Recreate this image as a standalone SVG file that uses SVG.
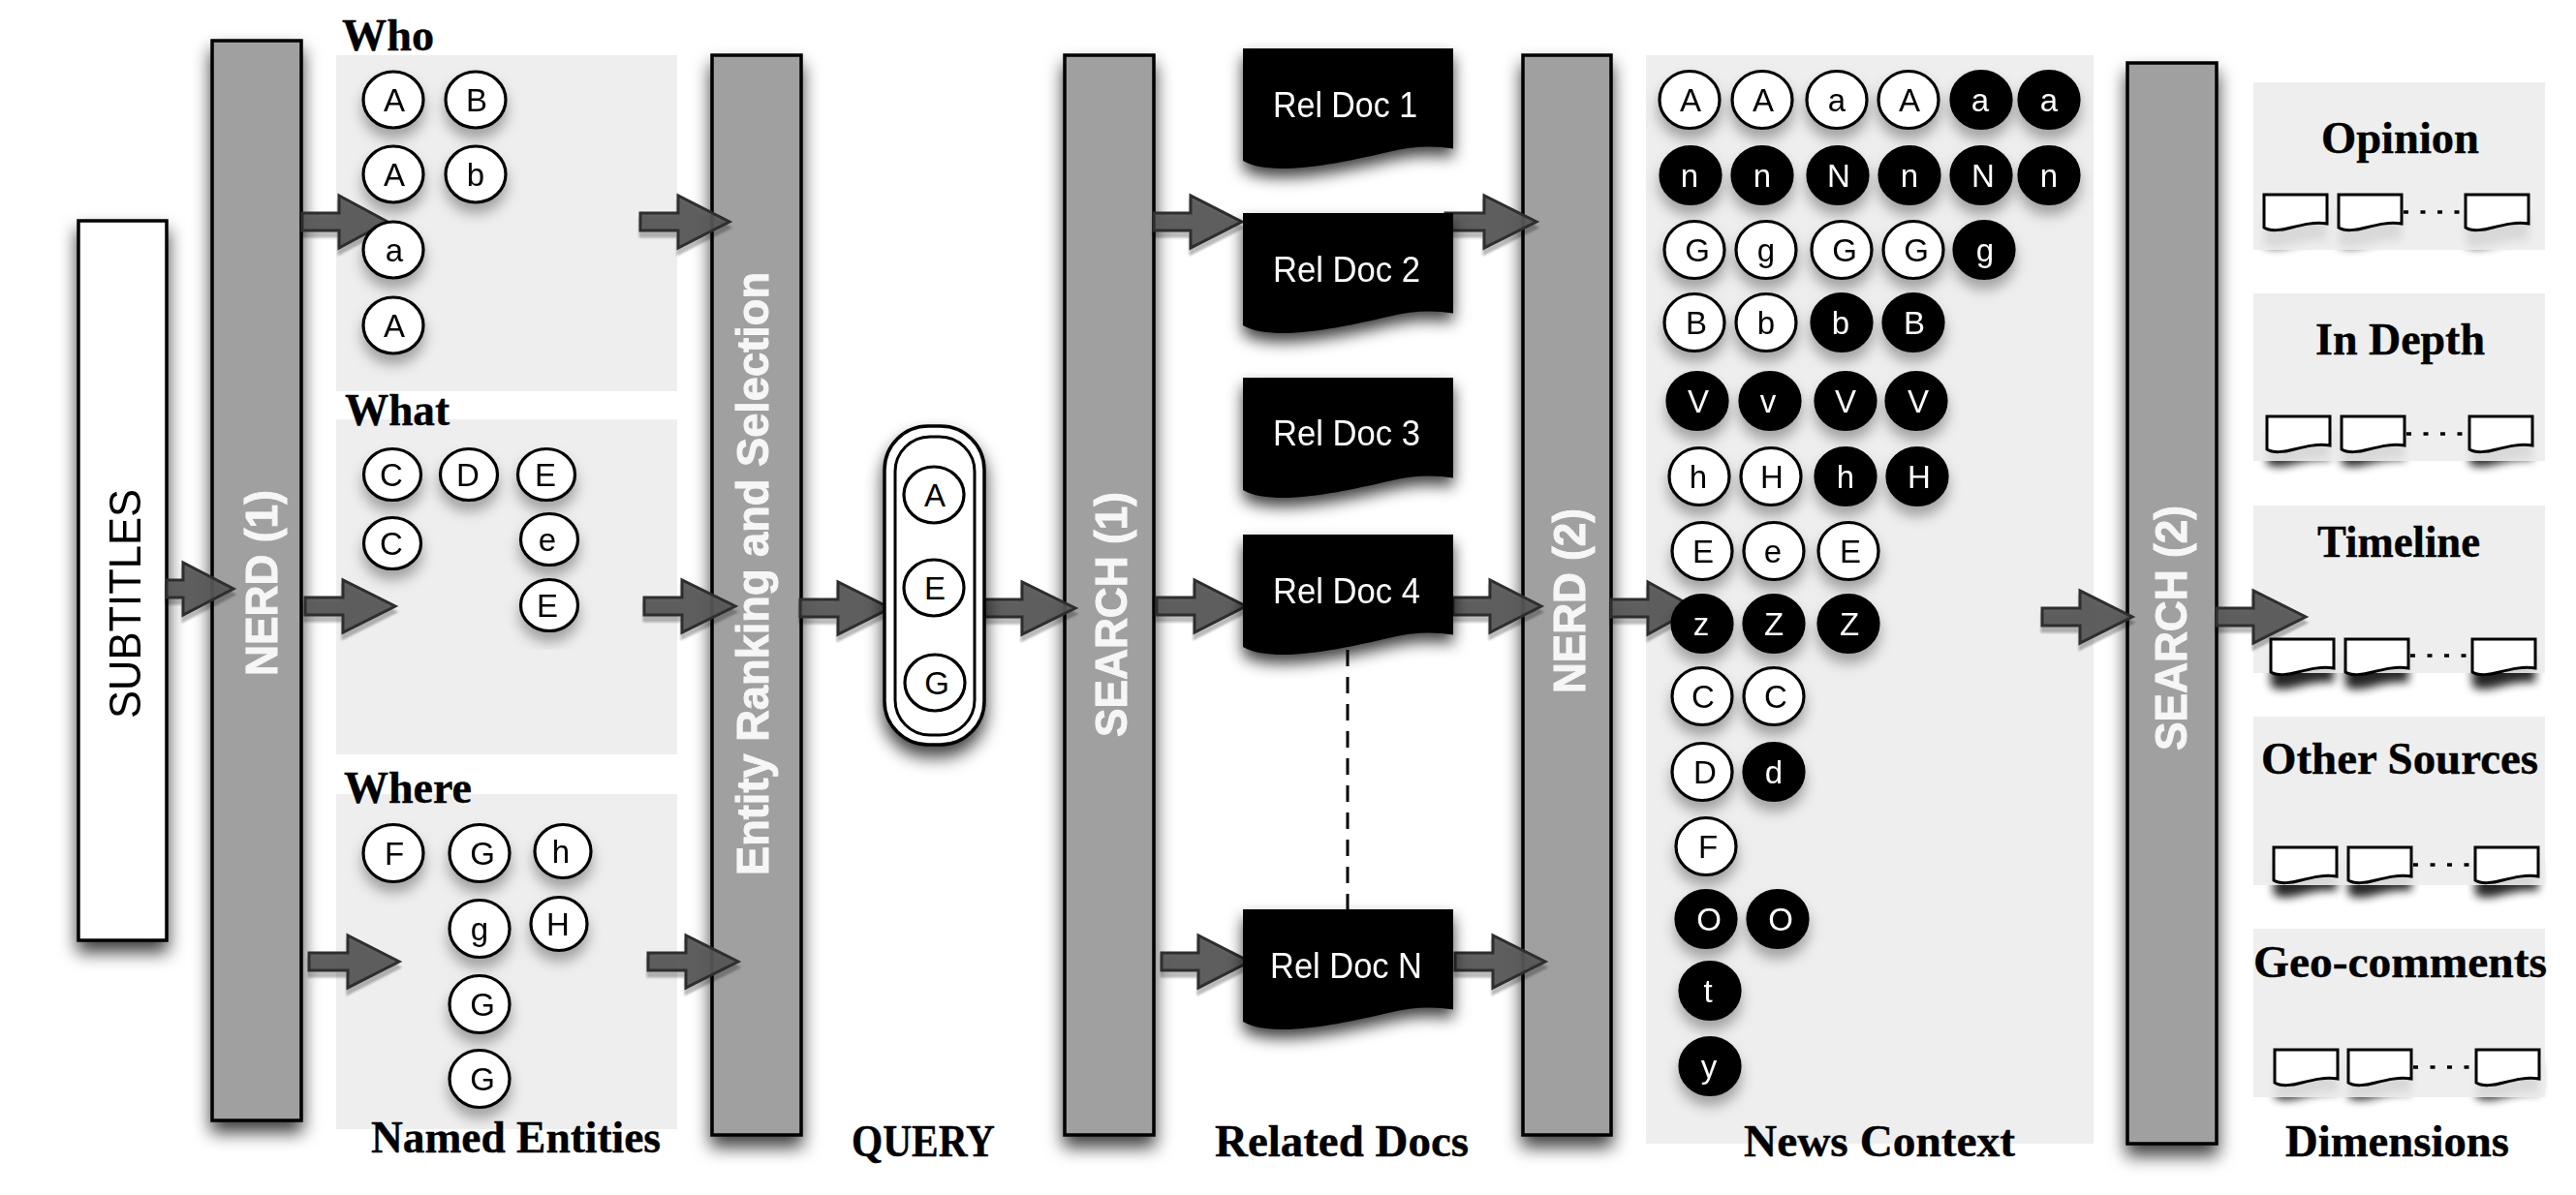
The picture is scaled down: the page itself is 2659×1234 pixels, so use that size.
<svg xmlns="http://www.w3.org/2000/svg" width="2659" height="1234" viewBox="0 0 2659 1234">
<style>
text{font-family:"Liberation Sans",Arial,sans-serif}
.panel{fill:#ececec;opacity:.9}
.bar{fill:#a0a0a0;stroke:#000;stroke-width:3.5}
.bt{font-size:47px;font-weight:700;fill:#f6f6f6;stroke:#f6f6f6;stroke-width:1}
.cap{font-family:"Liberation Serif","Times New Roman",serif;font-size:47px;font-weight:700;fill:#000;stroke:#000;stroke-width:.4}
.c ellipse{fill:#fff;stroke:#000;stroke-width:3.2}
.c text{font-size:33px;text-anchor:middle;fill:#000}
.k ellipse{fill:#000;stroke:#000;stroke-width:3.2}
.k text{font-size:33px;text-anchor:middle;fill:#fff}
.arrow{fill:#555;fill-opacity:.93;stroke:#2e2e2e;stroke-width:3;stroke-linejoin:miter}
.doc{fill:#000}
.dt{font-size:36px;fill:#fff}
.mini{fill:#fff;stroke:#000;stroke-width:3}
.ms{fill:#000;opacity:.85;filter:url(#blur)}
.dots{stroke:#000;stroke-width:3.5;stroke-dasharray:5 12.5;fill:none}
</style>
<defs>
<filter id="sb" x="-40%" y="-10%" width="180%" height="120%"><feDropShadow dx="0" dy="11" stdDeviation="9" flood-color="#000" flood-opacity=".75"/></filter>
<filter id="sc" x="-10%" y="-10%" width="120%" height="120%"><feDropShadow dx="0" dy="10" stdDeviation="7" flood-color="#000" flood-opacity=".32"/></filter>
<filter id="sd" x="-15%" y="-15%" width="130%" height="140%"><feDropShadow dx="0" dy="9" stdDeviation="8" flood-color="#000" flood-opacity=".75"/></filter>
<filter id="sa" x="-10%" y="-20%" width="120%" height="150%"><feDropShadow dx="0" dy="6" stdDeviation="1.2" flood-color="#000" flood-opacity=".28"/></filter>
<filter id="blur" x="-30%" y="-30%" width="160%" height="180%"><feGaussianBlur stdDeviation="5"/></filter>
<path id="docshape" d="M0 0H217V103.500C195 100 175 101 150 107C120 114 75 124 42 124C25 124 10 122 0 116Z"/>
<path id="minishape" d="M0 0H65V30C52 28 40 31 28 34C18 37 6 38 0 34Z"/>
</defs>

<g id="mini-shadows">
<use href="#minishape" class="ms" x="2337" y="219"/><use href="#minishape" class="ms" x="2414" y="219"/><use href="#minishape" class="ms" x="2545" y="219"/>
<use href="#minishape" class="ms" x="2340" y="445"/><use href="#minishape" class="ms" x="2417" y="445"/><use href="#minishape" class="ms" x="2549" y="445"/>
<use href="#minishape" class="ms" x="2344" y="675"/><use href="#minishape" class="ms" x="2421" y="675"/><use href="#minishape" class="ms" x="2552" y="675"/>
<use href="#minishape" class="ms" x="2347" y="890"/><use href="#minishape" class="ms" x="2424" y="890"/><use href="#minishape" class="ms" x="2555" y="890"/>
<use href="#minishape" class="ms" x="2348" y="1099"/><use href="#minishape" class="ms" x="2424" y="1099"/><use href="#minishape" class="ms" x="2556" y="1099"/>
</g>

<g id="panels">
<rect class="panel" x="347" y="57" width="352" height="347"/>
<rect class="panel" x="347" y="433" width="352" height="346"/>
<rect class="panel" x="347" y="820" width="352" height="346"/>
<rect class="panel" x="1699" y="57" width="462" height="1124"/>
<rect class="panel" x="2326" y="85" width="301" height="173"/>
<rect class="panel" x="2326" y="303" width="301" height="173"/>
<rect class="panel" x="2326" y="522" width="301" height="173"/>
<rect class="panel" x="2326" y="740" width="301" height="174"/>
<rect class="panel" x="2326" y="959" width="301" height="174"/>
</g>

<g id="captions">
<text class="cap" x="353" y="52" textLength="95" lengthAdjust="spacingAndGlyphs">Who</text>
<text class="cap" x="356" y="439" textLength="108" lengthAdjust="spacingAndGlyphs">What</text>
<text class="cap" x="355" y="829" textLength="132" lengthAdjust="spacingAndGlyphs">Where</text>
<text class="cap" x="383" y="1190" textLength="299" lengthAdjust="spacingAndGlyphs">Named Entities</text>
<text class="cap" x="879" y="1194" textLength="148" lengthAdjust="spacingAndGlyphs">QUERY</text>
<text class="cap" x="1254" y="1194" textLength="262" lengthAdjust="spacingAndGlyphs">Related Docs</text>
<text class="cap" x="1800" y="1194" textLength="280" lengthAdjust="spacingAndGlyphs">News Context</text>
<text class="cap" x="2359" y="1194" textLength="231" lengthAdjust="spacingAndGlyphs">Dimensions</text>
<text class="cap" x="2396" y="158" textLength="163" lengthAdjust="spacingAndGlyphs">Opinion</text>
<text class="cap" x="2390" y="366" textLength="175" lengthAdjust="spacingAndGlyphs">In Depth</text>
<text class="cap" x="2392" y="575" textLength="168" lengthAdjust="spacingAndGlyphs">Timeline</text>
<text class="cap" x="2334" y="799" textLength="286" lengthAdjust="spacingAndGlyphs">Other Sources</text>
<text class="cap" x="2326" y="1009" textLength="303" lengthAdjust="spacingAndGlyphs">Geo-comments</text>
</g>

<g id="subtitles" filter="url(#sb)"><rect x="81" y="228" width="91" height="743" fill="#fff" stroke="#000" stroke-width="3.5"/><text transform="translate(145,742) rotate(-90)" font-size="46" fill="#000" textLength="237" lengthAdjust="spacingAndGlyphs">SUBTITLES</text></g>
<g id="nerd1" filter="url(#sb)"><rect class="bar" x="219" y="42" width="92" height="1115"/><text class="bt" transform="translate(286,698) rotate(-90)" textLength="192" lengthAdjust="spacingAndGlyphs">NERD (1)</text></g>
<g id="entity-ranking" filter="url(#sb)"><rect class="bar" x="735" y="57" width="92" height="1115"/><text class="bt" transform="translate(793,904) rotate(-90)" textLength="623" lengthAdjust="spacingAndGlyphs">Entity Ranking and Selection</text></g>
<g id="search1" filter="url(#sb)"><rect class="bar" x="1099" y="57" width="92" height="1115"/><text class="bt" transform="translate(1163,761) rotate(-90)" textLength="253" lengthAdjust="spacingAndGlyphs">SEARCH (1)</text></g>
<g id="nerd2" filter="url(#sb)"><rect class="bar" x="1572" y="57" width="91" height="1115"/><text class="bt" transform="translate(1636,716) rotate(-90)" textLength="191" lengthAdjust="spacingAndGlyphs">NERD (2)</text></g>
<g id="search2" filter="url(#sb)"><rect class="bar" x="2196" y="65" width="92" height="1116"/><text class="bt" transform="translate(2257,775) rotate(-90)" textLength="253" lengthAdjust="spacingAndGlyphs">SEARCH (2)</text></g>

<g id="connectors">
<g filter="url(#sa)">
<path class="arrow" d="M312 220H350V202L400 229L350 256V238H312Z"/>
<path class="arrow" d="M661 220H700V202L753 229L700 256V238H661Z"/>
<path class="arrow" d="M172 599H189V581L241 608L189 635V617H172Z"/>
<path class="arrow" d="M315 617H354V599L408 626L354 653V635H315Z"/>
<path class="arrow" d="M665 617H704V599L759 626L704 653V635H665Z"/>
<path class="arrow" d="M319 984H359V966L412 993L359 1020V1002H319Z"/>
<path class="arrow" d="M669 984H708V966L762 993L708 1020V1002H669Z"/>
<path class="arrow" d="M826 619H865V601L919 628L865 655V637H826Z"/>
<path class="arrow" d="M1016 619H1055V601L1110 628L1055 655V637H1016Z"/>
<path class="arrow" d="M1191 220H1229V202L1282 229L1229 256V238H1191Z"/>
<path class="arrow" d="M1492 220H1532V202L1586 229L1532 256V238H1492Z"/>
<path class="arrow" d="M1194 617H1233V599L1286 626L1233 653V635H1194Z"/>
<path class="arrow" d="M1500 617H1538V599L1591 626L1538 653V635H1500Z"/>
<path class="arrow" d="M1199 984H1237V966L1290 993L1237 1020V1002H1199Z"/>
<path class="arrow" d="M1502 984H1541V966L1595 993L1541 1020V1002H1502Z"/>
<path class="arrow" d="M1663 619H1701V601L1750 628L1701 655V637H1663Z"/>
<path class="arrow" d="M2108 628H2147V610L2201 637L2147 664V646H2108Z"/>
<path class="arrow" d="M2288 628H2326V610L2380 637L2326 664V646H2288Z"/>
</g>
<line x1="1391" y1="671" x2="1391" y2="939" stroke="#000" stroke-width="3" stroke-dasharray="17 11"/>
</g>

<g id="who" class="c" filter="url(#sc)">
<g id="who-1"><ellipse cx="406" cy="103" rx="31" ry="29"/><text x="407" y="115">A</text></g>
<g id="who-2"><ellipse cx="491" cy="103" rx="31" ry="29"/><text x="492" y="115">B</text></g>
<g id="who-3"><ellipse cx="406" cy="180" rx="31" ry="29"/><text x="407" y="192">A</text></g>
<g id="who-4"><ellipse cx="491" cy="180" rx="31" ry="29"/><text x="491" y="192">b</text></g>
<g id="who-5"><ellipse cx="406" cy="258" rx="31" ry="29"/><text x="407" y="270">a</text></g>
<g id="who-6"><ellipse cx="406" cy="336" rx="31" ry="29"/><text x="407" y="348">A</text></g>
</g>
<g id="what" class="c" filter="url(#sc)">
<g id="what-1"><ellipse cx="405" cy="490" rx="29.500" ry="26.500"/><text x="404" y="502">C</text></g>
<g id="what-2"><ellipse cx="484" cy="490" rx="29.500" ry="26.500"/><text x="483" y="502">D</text></g>
<g id="what-3"><ellipse cx="564" cy="490" rx="29.500" ry="26.500"/><text x="563" y="502">E</text></g>
<g id="what-4"><ellipse cx="405" cy="561" rx="29.500" ry="26.500"/><text x="404" y="573">C</text></g>
<g id="what-5"><ellipse cx="567" cy="557" rx="29.500" ry="26.500"/><text x="565" y="569">e</text></g>
<g id="what-6"><ellipse cx="567" cy="625" rx="29.500" ry="26.500"/><text x="565" y="637">E</text></g>
</g>
<g id="where" class="c" filter="url(#sc)">
<g id="where-1"><ellipse cx="406" cy="881" rx="31" ry="29.500"/><text x="407" y="893">F</text></g>
<g id="where-2"><ellipse cx="495" cy="881" rx="31" ry="29.500"/><text x="498" y="893">G</text></g>
<g id="where-3"><ellipse cx="581" cy="879" rx="29" ry="27.500"/><text x="579" y="891">h</text></g>
<g id="where-4"><ellipse cx="495" cy="959" rx="31" ry="29.500"/><text x="495" y="971">g</text></g>
<g id="where-5"><ellipse cx="577" cy="954" rx="29" ry="27.500"/><text x="576" y="966">H</text></g>
<g id="where-6"><ellipse cx="495" cy="1037" rx="31" ry="29.500"/><text x="498" y="1049">G</text></g>
<g id="where-7"><ellipse cx="495" cy="1114" rx="31" ry="29.500"/><text x="498" y="1126">G</text></g>
</g>

<g id="query" filter="url(#sb)">
<rect x="913" y="440" width="103" height="329" rx="45" ry="45" fill="#fff" stroke="#000" stroke-width="3.5"/>
<rect x="924" y="451" width="82" height="308" rx="36" ry="36" fill="#fff" stroke="#000" stroke-width="3"/>
</g>
<g id="query-entities" class="c">
<g id="query-a"><ellipse cx="964" cy="511" rx="31" ry="29"/><text x="965" y="523">A</text></g>
<g id="query-e"><ellipse cx="964" cy="607" rx="31" ry="29"/><text x="965" y="619">E</text></g>
<g id="query-g"><ellipse cx="965" cy="705" rx="31" ry="29"/><text x="967" y="717">G</text></g>
</g>

<g id="rel-docs" filter="url(#sd)">
<g id="doc1"><use href="#docshape" class="doc" x="1283" y="50"/><text class="dt" x="1314" y="121" textLength="149" lengthAdjust="spacingAndGlyphs">Rel Doc 1</text></g>
<g id="doc2"><use href="#docshape" class="doc" x="1283" y="220"/><text class="dt" x="1314" y="291" textLength="152" lengthAdjust="spacingAndGlyphs">Rel Doc 2</text></g>
<g id="doc3"><use href="#docshape" class="doc" x="1283" y="390"/><text class="dt" x="1314" y="460" textLength="152" lengthAdjust="spacingAndGlyphs">Rel Doc 3</text></g>
<g id="doc4"><use href="#docshape" class="doc" x="1283" y="552"/><text class="dt" x="1314" y="623" textLength="152" lengthAdjust="spacingAndGlyphs">Rel Doc 4</text></g>
<g id="docN"><use href="#docshape" class="doc" x="1283" y="939"/><text class="dt" x="1311" y="1010" textLength="157" lengthAdjust="spacingAndGlyphs">Rel Doc N</text></g>
</g>

<g id="news" filter="url(#sc)">
<g class="c">
<g><ellipse cx="1744" cy="103" rx="31" ry="29.500"/><text x="1745" y="115">A</text></g>
<g><ellipse cx="1819" cy="103" rx="31" ry="29.500"/><text x="1820" y="115">A</text></g>
<g><ellipse cx="1896" cy="103" rx="31" ry="29.500"/><text x="1896" y="115">a</text></g>
<g><ellipse cx="1970" cy="103" rx="31" ry="29.500"/><text x="1971" y="115">A</text></g>
<g><ellipse cx="1749" cy="258" rx="31" ry="29.500"/><text x="1752" y="270">G</text></g>
<g><ellipse cx="1823" cy="258" rx="31" ry="29.500"/><text x="1823" y="270">g</text></g>
<g><ellipse cx="1901" cy="258" rx="31" ry="29.500"/><text x="1904" y="270">G</text></g>
<g><ellipse cx="1975" cy="258" rx="31" ry="29.500"/><text x="1978" y="270">G</text></g>
<g><ellipse cx="1749" cy="333" rx="31" ry="29.500"/><text x="1751" y="345">B</text></g>
<g><ellipse cx="1823" cy="333" rx="31" ry="29.500"/><text x="1823" y="345">b</text></g>
<g><ellipse cx="1754" cy="492" rx="31" ry="29.500"/><text x="1753" y="504">h</text></g>
<g><ellipse cx="1828" cy="492" rx="31" ry="29.500"/><text x="1829" y="504">H</text></g>
<g><ellipse cx="1757" cy="569" rx="31" ry="29.500"/><text x="1758" y="581">E</text></g>
<g><ellipse cx="1831" cy="569" rx="31" ry="29.500"/><text x="1830" y="581">e</text></g>
<g><ellipse cx="1908" cy="569" rx="31" ry="29.500"/><text x="1910" y="581">E</text></g>
<g><ellipse cx="1757" cy="719" rx="31" ry="29.500"/><text x="1758" y="731">C</text></g>
<g><ellipse cx="1831" cy="719" rx="31" ry="29.500"/><text x="1833" y="731">C</text></g>
<g><ellipse cx="1757" cy="797" rx="31" ry="29.500"/><text x="1760" y="809">D</text></g>
<g><ellipse cx="1761" cy="874" rx="31" ry="29.500"/><text x="1763" y="886">F</text></g>
</g>
<g class="k">
<g><ellipse cx="2045" cy="103" rx="31" ry="29.500"/><text x="2044" y="115">a</text></g>
<g><ellipse cx="2115" cy="103" rx="31" ry="29.500"/><text x="2115" y="115">a</text></g>
<g><ellipse cx="1745" cy="181" rx="31" ry="29.500"/><text x="1744" y="193">n</text></g>
<g><ellipse cx="1819" cy="181" rx="31" ry="29.500"/><text x="1819" y="193">n</text></g>
<g><ellipse cx="1897" cy="181" rx="31" ry="29.500"/><text x="1898" y="193">N</text></g>
<g><ellipse cx="1971" cy="181" rx="31" ry="29.500"/><text x="1971" y="193">n</text></g>
<g><ellipse cx="2045" cy="181" rx="31" ry="29.500"/><text x="2047" y="193">N</text></g>
<g><ellipse cx="2115" cy="181" rx="31" ry="29.500"/><text x="2115" y="193">n</text></g>
<g><ellipse cx="2048" cy="258" rx="31" ry="29.500"/><text x="2049" y="270">g</text></g>
<g><ellipse cx="1901" cy="333" rx="31" ry="29.500"/><text x="1900" y="345">b</text></g>
<g><ellipse cx="1975" cy="333" rx="31" ry="29.500"/><text x="1976" y="345">B</text></g>
<g><ellipse cx="1752" cy="414" rx="31" ry="29.500"/><text x="1753" y="426">V</text></g>
<g><ellipse cx="1827" cy="414" rx="31" ry="29.500"/><text x="1825" y="426">v</text></g>
<g><ellipse cx="1905" cy="414" rx="31" ry="29.500"/><text x="1905" y="426">V</text></g>
<g><ellipse cx="1978" cy="414" rx="31" ry="29.500"/><text x="1980" y="426">V</text></g>
<g><ellipse cx="1905" cy="492" rx="31" ry="29.500"/><text x="1905" y="504">h</text></g>
<g><ellipse cx="1979" cy="492" rx="31" ry="29.500"/><text x="1981" y="504">H</text></g>
<g><ellipse cx="1757" cy="644" rx="31" ry="29.500"/><text x="1756" y="656">z</text></g>
<g><ellipse cx="1831" cy="644" rx="31" ry="29.500"/><text x="1831" y="656">Z</text></g>
<g><ellipse cx="1908" cy="644" rx="31" ry="29.500"/><text x="1909" y="656">Z</text></g>
<g><ellipse cx="1831" cy="797" rx="31" ry="29.500"/><text x="1831" y="809">d</text></g>
<g><ellipse cx="1761" cy="949" rx="31" ry="29.500"/><text x="1764" y="961">O</text></g>
<g><ellipse cx="1835" cy="949" rx="31" ry="29.500"/><text x="1838" y="961">O</text></g>
<g><ellipse cx="1765" cy="1023" rx="31" ry="29.500"/><text x="1763" y="1035">t</text></g>
<g><ellipse cx="1765" cy="1101" rx="31" ry="29.500"/><text x="1764" y="1113">y</text></g>
</g>
</g>

<g id="dim-opinion"><use href="#minishape" class="mini" x="2337" y="201"/><use href="#minishape" class="mini" x="2414" y="201"/><use href="#minishape" class="mini" x="2545" y="201"/><line class="dots" x1="2481" y1="219" x2="2545" y2="219"/></g>
<g id="dim-depth"><use href="#minishape" class="mini" x="2340" y="430"/><use href="#minishape" class="mini" x="2417" y="430"/><use href="#minishape" class="mini" x="2549" y="430"/><line class="dots" x1="2484" y1="448" x2="2548" y2="448"/></g>
<g id="dim-timeline"><use href="#minishape" class="mini" x="2344" y="660"/><use href="#minishape" class="mini" x="2421" y="660"/><use href="#minishape" class="mini" x="2552" y="660"/><line class="dots" x1="2488" y1="677" x2="2552" y2="677"/></g>
<g id="dim-sources"><use href="#minishape" class="mini" x="2347" y="875"/><use href="#minishape" class="mini" x="2424" y="875"/><use href="#minishape" class="mini" x="2555" y="875"/><line class="dots" x1="2491" y1="893" x2="2555" y2="893"/></g>
<g id="dim-geo"><use href="#minishape" class="mini" x="2348" y="1084"/><use href="#minishape" class="mini" x="2424" y="1084"/><use href="#minishape" class="mini" x="2556" y="1084"/><line class="dots" x1="2491" y1="1102" x2="2556" y2="1102"/></g>
</svg>
